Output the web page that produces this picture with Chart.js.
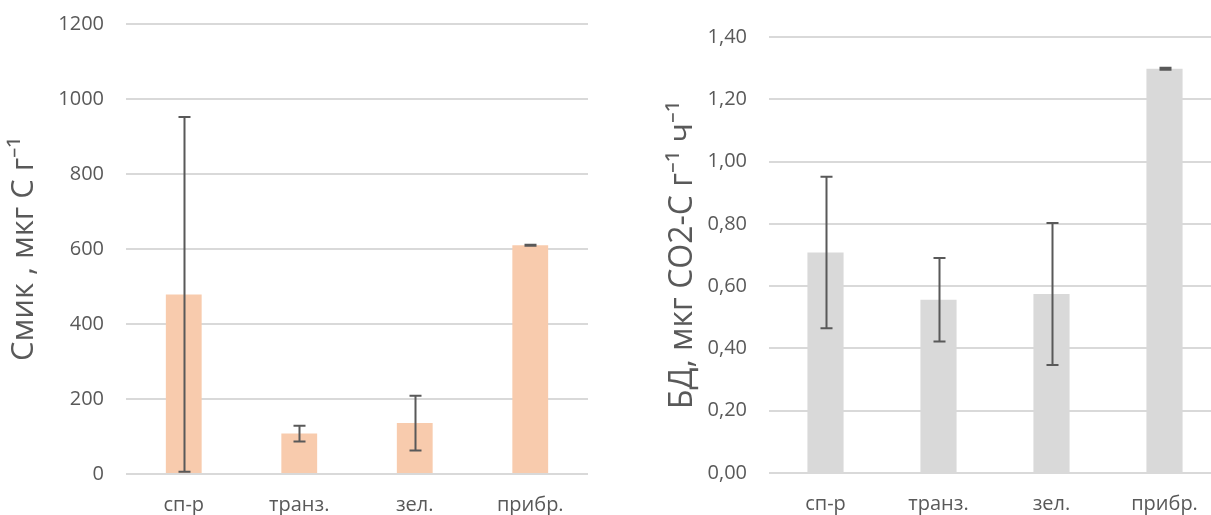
<!DOCTYPE html>
<html>
<head>
<meta charset="utf-8">
<script src="https://cdn.jsdelivr.net/npm/chart.js@4"></script>
<style>
  html, body { margin: 0; padding: 0; background: #fff; overflow: hidden; }
  body { width: 1211px; height: 515px; position: relative; }
  .box { position: absolute; }
  #boxLeft { left: 0; top: -10px; width: 600px; height: 525px; }
  #boxRight { left: 660px; top: 0; width: 575px; height: 515px; }
</style>
</head>
<body>
<div class="box" id="boxLeft"><canvas id="left"></canvas></div>
<div class="box" id="boxRight"><canvas id="right"></canvas></div>
<script>
// ===== данные =====
const categories = ["сп-р", "транз.", "зел.", "прибр."];

const cmikValues = [479, 108, 136, 610];
const cmikErrors = [473, 21, 73, 1.5];
const cmikTicks = [0, 200, 400, 600, 800, 1000, 1200];

const bdValues = [0.708, 0.556, 0.575, 1.298];
const bdErrors = [0.243, 0.134, 0.228, 0.003];
const bdTicks = [0, 0.2, 0.4, 0.6, 0.8, 1.0, 1.2, 1.4];

const textColor = "#595959";
const gridColor = "#d9d9d9";

// планки погрешностей — в Chart.js их нет, рисуем сами
const errorBarsPlugin = {
  id: "errorBars",
  afterDatasetsDraw(chart, args, opts) {
    const ctx = chart.ctx;
    const meta = chart.getDatasetMeta(0);
    const yScale = chart.scales.y;
    const values = chart.data.datasets[0].data;
    ctx.save();
    ctx.strokeStyle = opts.color;
    ctx.lineWidth = 2;
    meta.data.forEach((bar, i) => {
      const err = opts.errors[i];
      const top = yScale.getPixelForValue(values[i] + err);
      const bottom = yScale.getPixelForValue(values[i] - err);
      const x = Math.round(bar.x) + 0.5;
      const cap = 6;
      ctx.beginPath();
      ctx.moveTo(x, top); ctx.lineTo(x, bottom);
      ctx.moveTo(x - cap, top); ctx.lineTo(x + cap, top);
      ctx.moveTo(x - cap, bottom); ctx.lineTo(x + cap, bottom);
      ctx.stroke();
    });
    ctx.restore();
  }
};

function makeChart(id, cfg) {
  return new Chart(document.getElementById(id), {
    type: "bar",
    data: {
      labels: categories,
      datasets: [{ data: cfg.values, backgroundColor: cfg.color, barPercentage: cfg.barPct, categoryPercentage: 1 }]
    },
    plugins: [errorBarsPlugin],
    options: {
      responsive: true, maintainAspectRatio: false, animation: false,
      layout: { padding: cfg.padding },
      plugins: {
        legend: { display: false }, tooltip: { enabled: false },
        errorBars: { errors: cfg.errors, color: "#595959" }
      },
      scales: {
        x: {
          afterFit: (s) => { s.height = cfg.xHeight; },
          grid: { display: false, drawTicks: false },
          border: { display: false },
          ticks: { color: textColor, font: { family: "Open Sans", size: 20 }, padding: 19 }
        },
        y: {
          min: cfg.ticks[0], max: cfg.ticks[cfg.ticks.length - 1],
          afterBuildTicks: (s) => { s.ticks = cfg.ticks.map((v) => ({ value: v })); },
          afterFit: (s) => { s.width = cfg.axisWidth; },
          grid: { color: gridColor, lineWidth: 2, drawTicks: false },
          border: { display: false },
          ticks: { color: textColor, font: { family: "Open Sans", size: 20 }, padding: 22, callback: cfg.fmt },
          title: { display: true, text: cfg.title, color: textColor, font: { family: "Open Sans", size: cfg.titleSize }, padding: { top: 0, bottom: 0 } }
        }
      }
    }
  });
}

makeChart("left", {
  values: cmikValues, errors: cmikErrors, ticks: cmikTicks, color: "#f8cbad", barPct: 0.31,
  title: "Смик , мкг С г⁻¹", titleSize: 31, axisWidth: 120, xHeight: 41,
  padding: { top: 0, right: 12, bottom: 0, left: 6 },
  fmt: (v) => String(v)
});

makeChart("right", {
  values: bdValues, errors: bdErrors, ticks: bdTicks, color: "#d9d9d9", barPct: 0.32,
  title: "БД, мкг СО2-С г⁻¹ ч⁻¹", titleSize: 32, axisWidth: 105, xHeight: 42,
  padding: { top: 37, right: 14, bottom: 0, left: 4 },
  fmt: (v) => v.toFixed(2).replace(".", ",")
});
</script>
</body>
</html>
